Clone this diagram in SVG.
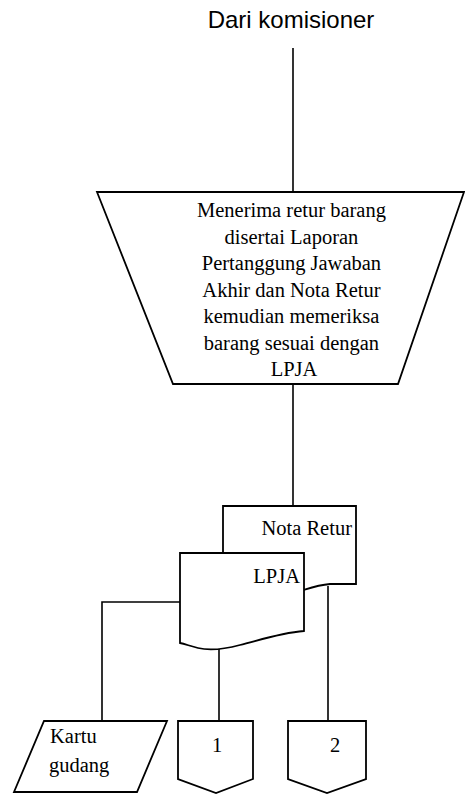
<svg xmlns="http://www.w3.org/2000/svg" width="465" height="794" viewBox="0 0 465 794">
  <style>
    .shape { fill: #ffffff; stroke: #000000; stroke-width: 1.8; stroke-linejoin: miter; }
    .line { fill: none; stroke: #000000; stroke-width: 1.6; }
    .label { font-family: "Liberation Serif", "Times New Roman", serif; font-size: 20.5px; fill: #000000; }
    .title { font-family: "Liberation Sans", Arial, sans-serif; font-size: 24px; fill: #000000; }
  </style>
  <rect width="465" height="794" fill="#ffffff"/>

  <!-- connectors -->
  <g id="connectors">
    <line class="line" x1="293" y1="48" x2="293" y2="192"/>
    <line class="line" x1="293" y1="383" x2="293" y2="506"/>
    <polyline class="line" points="180,602 102,602 102,721"/>
    <line class="line" x1="219" y1="649" x2="219" y2="721"/>
    <line class="line" x1="328" y1="586" x2="328" y2="721"/>
  </g>

  <!-- source label -->
  <g id="source">
    <text class="title" x="291" y="28" text-anchor="middle">Dari komisioner</text>
  </g>

  <!-- manual operation -->
  <g id="manual-check">
    <polygon class="shape" points="97,192 464,192 398,384 173,384"/>
    <text class="label" text-anchor="middle">
      <tspan x="294" y="217">Menerima retur barang</tspan>
      <tspan x="294" y="243.5">disertai Laporan</tspan>
      <tspan x="294" y="270">Pertanggung  Jawaban</tspan>
      <tspan x="294" y="296.5">Akhir dan Nota Retur</tspan>
      <tspan x="294" y="323">kemudian memeriksa</tspan>
      <tspan x="294" y="349.5">barang sesuai dengan</tspan>
      <tspan x="294" y="376">LPJA</tspan>
    </text>
  </g>

  <!-- document: Nota Retur -->
  <g id="doc-nota-retur">
    <path class="shape" d="M223,506 L356,506 L356,584 L330,584 C318,585 310,588 300,591 L223,591 Z"/>
    <text class="label" x="352" y="535" text-anchor="end">Nota Retur</text>
  </g>

  <!-- document: LPJA -->
  <g id="doc-lpja">
    <path class="shape" d="M180,553 L304,553 L304,631 C280,633 260,640 240,645 C225,649 210,651 198,648 C190,646 185,644 180,643 Z"/>
    <text class="label" x="300" y="583" text-anchor="end">LPJA</text>
  </g>

  <!-- record: Kartu gudang -->
  <g id="kartu-gudang">
    <polygon class="shape" points="44,721 167,721 137,792 14,792"/>
    <text class="label" x="50" y="743">Kartu</text>
    <text class="label" x="49" y="772">gudang</text>
  </g>

  <!-- off-page connector 1 -->
  <g id="offpage-1">
    <polygon class="shape" points="178,721 253,721 253,779 216,793 178,779"/>
    <text class="label" x="217" y="752" text-anchor="middle">1</text>
  </g>

  <!-- off-page connector 2 -->
  <g id="offpage-2">
    <polygon class="shape" points="288,721 366,721 366,779 327,793 288,779"/>
    <text class="label" x="335" y="752" text-anchor="middle">2</text>
  </g>
</svg>
